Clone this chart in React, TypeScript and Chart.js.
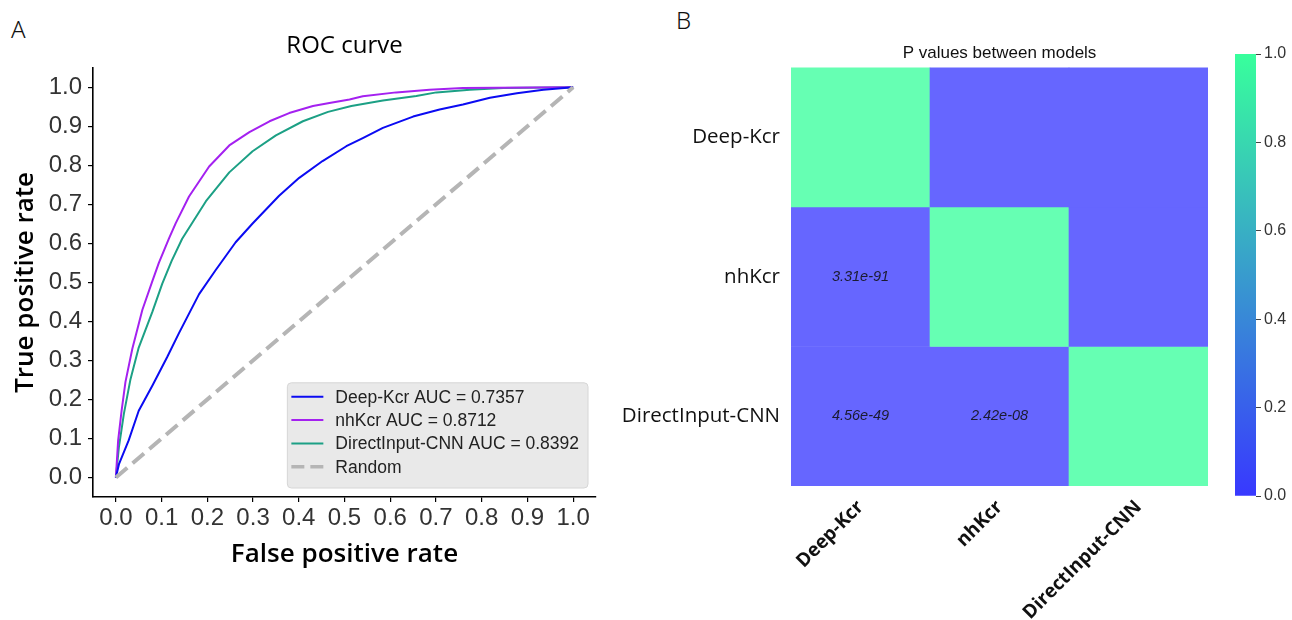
import React, { useEffect, useRef } from 'react';
import { Chart, registerables } from 'chart.js';

Chart.register(...registerables);

// ---------- Panel A: ROC data (fpr, tpr) ----------
const rocTicks = [0, 0.1, 0.2, 0.3, 0.4, 0.5, 0.6, 0.7, 0.8, 0.9, 1.0];

const deepKcrRoc = [
  [0, 0], [0.007, 0.035], [0.028, 0.095], [0.05, 0.171], [0.08, 0.236], [0.112, 0.308],
  [0.138, 0.37], [0.182, 0.47], [0.218, 0.531], [0.262, 0.603],
  [0.299, 0.651], [0.357, 0.722], [0.401, 0.768], [0.452, 0.811], [0.504, 0.849],
  [0.54, 0.87], [0.584, 0.896], [0.65, 0.925], [0.708, 0.943], [0.759, 0.956], [0.818, 0.973],
  [0.877, 0.985], [0.935, 0.994], [1, 1],
];
const nhKcrRoc = [
  [0, 0], [0.005, 0.095], [0.0125, 0.171], [0.021, 0.245], [0.036, 0.33], [0.058, 0.43],
  [0.08, 0.504], [0.094, 0.55], [0.116, 0.612], [0.131, 0.652], [0.16, 0.72], [0.204, 0.797],
  [0.248, 0.851], [0.292, 0.885], [0.336, 0.913], [0.379, 0.934], [0.431, 0.952], [0.467, 0.96],
  [0.511, 0.969], [0.54, 0.977], [0.613, 0.987], [0.686, 0.994], [0.759, 0.998], [0.833, 0.999], [1, 1],
];
const directInputRoc = [
  [0, 0], [0.0066, 0.077], [0.0175, 0.163], [0.032, 0.252], [0.05, 0.333], [0.08, 0.425],
  [0.1015, 0.497], [0.122, 0.555], [0.145, 0.612], [0.197, 0.708], [0.248, 0.782], [0.299, 0.836],
  [0.35, 0.877], [0.409, 0.913], [0.464, 0.937], [0.515, 0.952], [0.584, 0.966], [0.657, 0.978],
  [0.701, 0.987], [0.774, 0.994], [0.847, 0.998], [1, 1],
];
const randomRoc = [[0, 0], [1, 1]];

const rocLabels = ['Deep-Kcr AUC = 0.7357', 'nhKcr AUC = 0.8712', 'DirectInput-CNN AUC = 0.8392', 'Random'];

// ---------- Panel B: P values ----------
const models = ['Deep-Kcr', 'nhKcr', 'DirectInput-CNN'];
const pRowDeepKcr = [1, 3.31e-91, 4.56e-49];
const pRowNhKcr = [3.31e-91, 1, 2.42e-8];
const pRowDirectInput = [4.56e-49, 2.42e-8, 1];
const pMatrix = [pRowDeepKcr, pRowNhKcr, pRowDirectInput];
const colorbarTicks = [0, 0.2, 0.4, 0.6, 0.8, 1.0];

const SANS = '"Liberation Sans", Arial, sans-serif';
const TITLE_FONT = '"Open Sans", "Noto Sans", sans-serif';

function winter(v: number, alpha: number) {
  const r = 0, g = v * 255, b = (1 - 0.5 * v) * 255;
  const mix = (c: number) => Math.round(255 * (1 - alpha) + c * alpha);
  return `rgb(${mix(r)},${mix(g)},${mix(b)})`;
}

function fmtSci(v: number) {
  const [m, e] = v.toExponential(2).split('e');
  const n = parseInt(e, 10);
  return `${m}e${n < 0 ? '-' : '+'}${String(Math.abs(n)).padStart(2, '0')}`;
}

const toXY = (arr: number[][]) => arr.map(([x, y]) => ({ x, y }));

const legendPlugin = {
  id: 'boxLegend',
  afterDatasetsDraw(chart: any) {
    const { ctx, chartArea } = chart;
    const ds = chart.data.datasets;
    ctx.save();
    ctx.font = `17.5px ${SANS}`;
    let maxW = 0;
    ds.forEach((d: any) => { maxW = Math.max(maxW, ctx.measureText(d.label).width); });
    const rowH = 23.3;
    const boxW = 48 + maxW + 9;
    const boxH = 12 + rowH * ds.length;
    const right = chartArea.right - 8;
    const bottom = chartArea.bottom - 9;
    const left = right - boxW;
    const top = bottom - boxH;
    ctx.beginPath();
    ctx.roundRect(left, top, boxW, boxH, 4);
    ctx.fillStyle = 'rgba(232,232,232,0.95)';
    ctx.fill();
    ctx.strokeStyle = '#d6d6d6';
    ctx.lineWidth = 1;
    ctx.stroke();
    ds.forEach((d: any, i: number) => {
      const y = top + 14 + rowH * i;
      const dashed = d.borderDash && d.borderDash.length;
      ctx.beginPath();
      ctx.setLineDash(dashed ? [13, 6] : []);
      ctx.strokeStyle = d.borderColor;
      ctx.lineWidth = dashed ? 3.5 : 2;
      ctx.moveTo(left + 4, y);
      ctx.lineTo(left + 36, y);
      ctx.stroke();
      ctx.setLineDash([]);
      ctx.fillStyle = '#222';
      ctx.textBaseline = 'middle';
      ctx.textAlign = 'left';
      ctx.fillText(d.label, left + 48, y + 1);
    });
    ctx.restore();
  },
};

const cellTextPlugin = {
  id: 'cellText',
  afterDatasetsDraw(chart: any) {
    const { ctx } = chart;
    ctx.save();
    ctx.font = `italic 14.5px ${SANS}`;
    ctx.fillStyle = '#1b1b30';
    ctx.textAlign = 'center';
    ctx.textBaseline = 'middle';
    chart.data.datasets.forEach((_: any, r: number) => {
      const meta = chart.getDatasetMeta(r);
      meta.data.forEach((bar: any, c: number) => {
        if (c < r) {
          const p = bar.getProps(['x', 'y', 'base'], true);
          ctx.fillText(fmtSci(pMatrix[r][c]), p.x, (p.y + p.base) / 2);
        }
      });
    });
    ctx.restore();
  },
};

export default function App() {
  const rocRef = useRef<HTMLCanvasElement>(null);
  const heatRef = useRef<HTMLCanvasElement>(null);
  const cbRef = useRef<HTMLCanvasElement>(null);

  useEffect(() => {
    const rocColors = ['#0b0bf2', '#a421f0', '#1ca085', '#b5b5b5'];
    const rocData = [deepKcrRoc, nhKcrRoc, directInputRoc, randomRoc];
    const roc = new Chart(rocRef.current!, {
      type: 'scatter',
      data: {
        datasets: rocData.map((d, i) => ({
          label: rocLabels[i],
          data: toXY(d),
          showLine: true,
          borderColor: rocColors[i],
          backgroundColor: rocColors[i],
          borderWidth: i === 3 ? 4 : 2,
          borderDash: i === 3 ? [15, 7] : [],
          pointRadius: 0,
          tension: 0,
          borderJoinStyle: 'round',
          order: i === 3 ? 0 : 1,
        })),
      },
      options: {
        animation: false,
        responsive: true,
        maintainAspectRatio: false,
        layout: { padding: { top: 32, left: 0, right: 4, bottom: 0 } },
        plugins: {
          legend: { display: false },
          tooltip: { enabled: false },
          title: {
            display: true,
            text: 'ROC curve',
            fullSize: false,
            color: '#000',
            font: { family: TITLE_FONT, size: 24, weight: 'normal' },
            padding: { top: 0, bottom: 7 },
          },
        },
        scales: {
          x: {
            type: 'linear',
            min: -0.05,
            max: 1.05,
            afterBuildTicks: (s: any) => { s.ticks = rocTicks.map((v) => ({ value: v })); },
            afterFit: (s: any) => { s.height = 123; },
            ticks: { callback: (v: any) => Number(v).toFixed(1), color: '#333', font: { family: SANS, size: 24 }, padding: 2, maxRotation: 0 },
            grid: { drawOnChartArea: false, drawTicks: true, tickLength: 5, color: '#000', lineWidth: 1.2 },
            border: { display: true, color: '#000', width: 1.6 },
            title: { display: true, text: 'False positive rate', color: '#000', font: { family: TITLE_FONT, size: 26, weight: '600' }, padding: { top: 0, bottom: 50 } },
          },
          y: {
            type: 'linear',
            min: -0.05,
            max: 1.05,
            afterBuildTicks: (s: any) => { s.ticks = rocTicks.map((v) => ({ value: v })); },
            afterFit: (s: any) => { s.width = 93; },
            ticks: { callback: (v: any) => Number(v).toFixed(1), color: '#333', font: { family: SANS, size: 24 }, padding: 6 },
            grid: { drawOnChartArea: false, drawTicks: true, tickLength: 5, color: '#000', lineWidth: 1.2 },
            border: { display: true, color: '#000', width: 1.6 },
            title: { display: true, text: 'True positive rate', color: '#000', font: { family: TITLE_FONT, size: 26, weight: '600' }, padding: { top: 10, bottom: 0 } },
          },
        },
      },
      plugins: [legendPlugin],
    } as any);

    const heat = new Chart(heatRef.current!, {
      type: 'bar',
      data: {
        labels: models,
        datasets: pMatrix.map((row, r) => ({
          label: models[r],
          data: row.map(() => [r, r + 1]),
          backgroundColor: row.map((v) => winter(v, 0.6)),
          borderWidth: 0,
          barPercentage: 1,
          categoryPercentage: 1,
          grouped: false,
        })),
      },
      options: {
        animation: false,
        responsive: true,
        maintainAspectRatio: false,
        layout: { padding: { top: 43, left: 0, right: 12, bottom: 0 } },
        plugins: {
          legend: { display: false },
          tooltip: { enabled: false },
          title: {
            display: true,
            text: 'P values between models',
            fullSize: false,
            color: '#111',
            font: { family: SANS, size: 17, weight: 'normal' },
            padding: { top: 0, bottom: 4 },
          },
        },
        scales: {
          x: {
            type: 'category',
            offset: true,
            afterFit: (s: any) => { s.height = 134; },
            ticks: { color: '#111', font: { family: TITLE_FONT, size: 19, weight: '700' }, minRotation: 45, maxRotation: 45, padding: 2 },
            grid: { display: false },
            border: { display: false },
          },
          y: {
            type: 'linear',
            reverse: true,
            min: 0,
            max: 3,
            afterBuildTicks: (s: any) => { s.ticks = models.map((_, i) => ({ value: i + 0.5 })); },
            afterFit: (s: any) => { s.width = 191; },
            ticks: { callback: (v: any) => models[Math.floor(Number(v))], color: '#111', font: { family: TITLE_FONT, size: 20.5, weight: '500' }, padding: 3 },
            grid: { display: false },
            border: { display: false },
          },
        },
      },
      plugins: [cellTextPlugin],
    } as any);

    const cb = new Chart(cbRef.current!, {
      type: 'bar',
      data: {
        labels: [''],
        datasets: [{
          data: [[0, 1]],
          backgroundColor: (c: any) => {
            const chart = c.chart;
            const ys = chart.scales && chart.scales.y;
            if (!chart.chartArea || !ys) return winter(0.5, 0.78);
            const g = chart.ctx.createLinearGradient(0, ys.getPixelForValue(0), 0, ys.getPixelForValue(1));
            g.addColorStop(0, winter(0, 0.78));
            g.addColorStop(1, winter(1, 0.78));
            return g;
          },
          borderWidth: 0,
          barPercentage: 1,
          categoryPercentage: 1,
        }],
      },
      options: {
        animation: false,
        responsive: true,
        maintainAspectRatio: false,
        layout: { padding: { top: 14, left: 15, right: 0, bottom: 14 } },
        plugins: { legend: { display: false }, tooltip: { enabled: false } },
        scales: {
          x: { display: false },
          y: {
            position: 'right',
            min: 0,
            max: 1,
            afterBuildTicks: (s: any) => { s.ticks = colorbarTicks.map((v) => ({ value: v })); },
            afterFit: (s: any) => { s.width = 36; },
            ticks: { callback: (v: any) => Number(v).toFixed(1), color: '#333', font: { family: SANS, size: 16 }, padding: 3 },
            grid: { drawOnChartArea: false, drawTicks: true, tickLength: 5, color: '#444', lineWidth: 1 },
            border: { display: false },
          },
        },
      },
    } as any);

    return () => { roc.destroy(); heat.destroy(); cb.destroy(); };
  }, []);

  const letter: React.CSSProperties = {
    position: 'absolute',
    font: `300 24px "Noto Sans", "Open Sans", sans-serif`,
    lineHeight: '24px',
    color: '#111',
  };

  return (
    <div style={{ position: 'absolute', left: 0, top: 0, width: 1292, height: 620, background: '#fff', overflow: 'hidden' }}>
      <div style={{ ...letter, left: 11, top: 17 }}>A</div>
      <div style={{ ...letter, left: 676, top: 8 }}>B</div>
      <div style={{ position: 'absolute', left: 0, top: 0, width: 600, height: 620 }}>
        <canvas ref={rocRef} />
      </div>
      <div style={{ position: 'absolute', left: 600, top: 0, width: 620, height: 620 }}>
        <canvas ref={heatRef} />
      </div>
      <div style={{ position: 'absolute', left: 1220, top: 40, width: 72, height: 470 }}>
        <canvas ref={cbRef} />
      </div>
    </div>
  );
}
